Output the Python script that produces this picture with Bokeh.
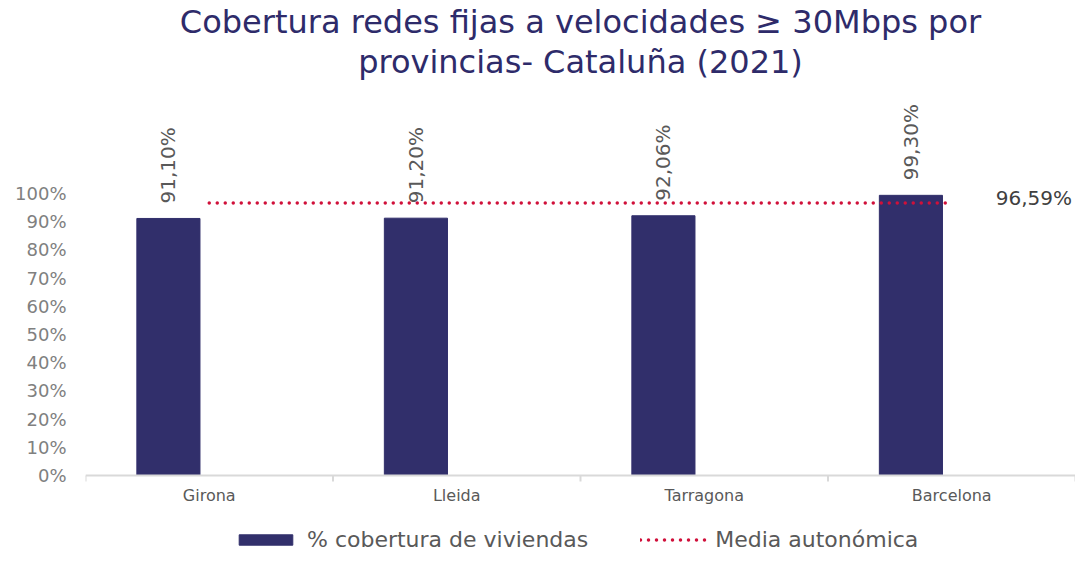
import numpy as np
from bokeh.plotting import figure
from bokeh.models import (ColumnDataSource, Range1d, FixedTicker, PrintfTickFormatter,
                          Legend, LegendItem, Title, Label, Span)
from bokeh.core.properties import value
from bokeh.embed import file_html
from bokeh.resources import INLINE

# ---------------- data ----------------
title_lines = ["Cobertura redes fijas a velocidades ≥ 30Mbps por", "provincias- Cataluña (2021)"]
provincias = ["Girona", "Lleida", "Tarragona", "Barcelona"]
cobertura = [91.10, 91.20, 92.06, 99.30]
media_autonomica = 96.59
y_ticks = [0, 10, 20, 30, 40, 50, 60, 70, 80, 90, 100]
serie_barras = "% cobertura de viviendas"
serie_linea = "Media autonómica"

def fmt(v):
    return f"{v:.2f}%".replace(".", ",")

FONT = "DejaVu Sans"
NAVY = "#312F6B"
RED = "#D0103A"
AXIS_GREY = "#d9d9d9"

n = len(provincias)
centers = [i + 0.5 for i in range(n)]          # category slot centres
bounds = list(range(n + 1))                     # category slot boundaries
bar_shift = -0.165                              # bar sits left of the slot centre

Y_START, Y_END = -28, 140                       # room below 0 holds x labels + legend
FRAME_H = 474
tick_len = 6 * (Y_END - Y_START) / FRAME_H      # 6 px tick, in data units

src = ColumnDataSource(dict(
    xc=centers,
    xb=[c + bar_shift for c in centers],
    cob=cobertura,
    lab=[fmt(v) for v in cobertura],
    media=[media_autonomica] * n,
    name=provincias,
    zero=[0] * n,
))
tsrc = ColumnDataSource(dict(x=bounds, y0=[0] * len(bounds), y1=[-tick_len] * len(bounds)))

p = figure(x_range=Range1d(0, n), y_range=Range1d(Y_START, Y_END),
           frame_width=990, frame_height=FRAME_H, output_backend="svg", toolbar_location=None,
           x_axis_location=None, min_border_left=85, min_border_right=0,
           min_border_top=8, min_border_bottom=0, outline_line_color=None)
p.xgrid.visible = False
p.ygrid.visible = False

# y axis
ya = p.yaxis[0]
ya.ticker = FixedTicker(ticks=y_ticks)
ya.formatter = PrintfTickFormatter(format="%d%%")
ya.axis_line_color = None
ya.major_tick_line_color = None
ya.minor_tick_line_color = None
ya.major_tick_out = 0
ya.major_label_standoff = 19
ya.major_label_text_font = FONT
ya.major_label_text_font_size = "18px"
ya.major_label_text_color = "#808080"

# x axis line, boundary ticks and category labels
p.add_layout(Span(location=0, dimension="width", line_color=AXIS_GREY, line_width=2))
p.segment(x0="x", y0="y0", x1="x", y1="y1", source=tsrc, line_color=AXIS_GREY, line_width=2)
p.text(x="xc", y="zero", text="name", source=src, y_offset=20,
       text_align="center", text_baseline="middle",
       text_font=value(FONT), text_font_size="16px", text_color="#595959")

# bars
bars = p.vbar(x="xb", top="cob", width=0.255, source=src,
              fill_color=NAVY, line_color=NAVY)

# bar labels (rotated)
p.text(x="xb", y="cob", text="lab", source=src,
       angle=np.pi / 2, text_align="left", text_baseline="middle", y_offset=-15,
       text_font=value(FONT), text_font_size="20px", text_color="#595959")

# average line
line = p.line(x="xc", y="media", source=src, line_color=RED, line_width=3.5,
              line_dash="0 8", line_cap="round")

p.add_layout(Label(x=centers[-1], y=media_autonomica, text=fmt(media_autonomica),
                   x_offset=44, y_offset=5, text_baseline="middle",
                   text_font=FONT, text_font_size="20px", text_color="#404040"))

# legend inside the lower strip of the frame
legend = Legend(items=[LegendItem(label=serie_barras, renderers=[bars]),
                       LegendItem(label=serie_linea, renderers=[line])],
                orientation="horizontal", location=(147, 2),
                border_line_color=None, background_fill_alpha=0,
                glyph_width=67, glyph_height=13, label_standoff=8, spacing=52,
                padding=0, margin=0,
                label_text_font=FONT, label_text_font_size="22px",
                label_text_color="#595959")
p.add_layout(legend, "center")

# titles
p.add_layout(Title(text=title_lines[1], align="center", text_font=FONT,
                   text_font_size="32px", text_font_style="normal",
                   text_color="#2E2B6A", standoff=0), "above")
p.add_layout(Title(text=title_lines[0], align="center", text_font=FONT,
                   text_font_size="32px", text_font_style="normal",
                   text_color="#2E2B6A", standoff=0), "above")

open("out.html", "w").write(file_html(p, INLINE))
